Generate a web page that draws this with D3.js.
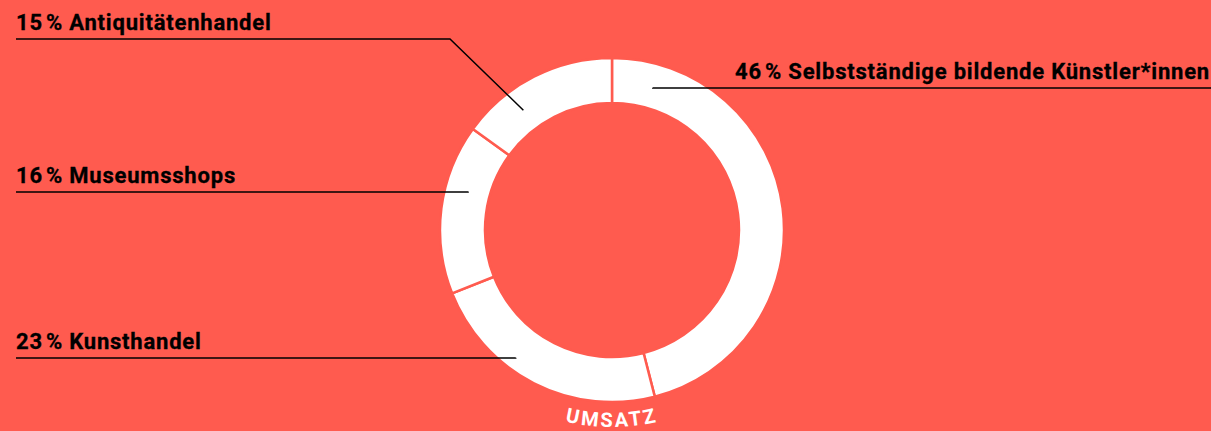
<!DOCTYPE html>
<html>
<head>
<meta charset="utf-8">
<script src="https://cdn.jsdelivr.net/npm/d3@7"></script>
<style>
  html, body { margin: 0; padding: 0; background: #ff5b4f; }
  svg { display: block; }
  .label { font-family: Roboto, "Liberation Sans", sans-serif; font-weight: 700; font-size: 22px; fill: #000; letter-spacing: 0.8px; stroke: #000; stroke-width: 0.3px; }
  .title { font-family: Roboto, "Liberation Sans", sans-serif; font-weight: 700; font-size: 20px; fill: #fff; letter-spacing: 2.5px; }
</style>
</head>
<body>
<div class="chart"></div>
<script>
// DATA ------------------------------
const categories = ['Selbstständige bildende Künstler*innen', 'Kunsthandel', 'Museumsshops', 'Antiquitätenhandel'];
const shares = [46, 23, 16, 15];
const chartTitle = 'UMSATZ';

// CHART INIT ------------------------------
const width = 1211;
const height = 431;
const cx = 612;
const cy = 230;
const outerR = 172;
const innerR = 127;
const bg = '#ff5b4f';

const svg = d3
  .select('.chart')
  .append('svg')
  .attr('width', width)
  .attr('height', height);

svg.append('rect').attr('width', width).attr('height', height).attr('fill', bg);

const group = svg.append('g').attr('transform', 'translate(' + cx + ',' + cy + ')');

const data = categories.map((c, i) => ({ name: c, value: shares[i] }));

const pie = d3.pie().sort(null).value((d) => d.value);
const arc = d3.arc().innerRadius(innerR).outerRadius(outerR);
const arcs = pie(data);

group
  .selectAll('path.slice')
  .data(arcs)
  .enter()
  .append('path')
  .attr('class', 'slice')
  .attr('d', arc)
  .attr('fill', '#fff')
  .attr('stroke', bg)
  .attr('stroke-width', 2.5);

// leader lines: anchor in ring (angle in degrees, radius), elbow and label row
const labelLayout = [
  { angle: 16, r: 148, y: 88, side: 'right', x2: width, tx: width - 1 },
  { angle: 217, r: 160, y: 358, side: 'left', x2: 16, tx: 16 },
  { angle: 285, r: 149, y: 192, side: 'left', x2: 16, tx: 16 },
  { angle: 323.5, r: 149, y: 39, side: 'left', x2: 16, tx: 16, elbowX: 450 }
];

const fmt = (v) => v + '\u200A%';

arcs.forEach((a, i) => {
  const l = labelLayout[i];
  const rad = (l.angle * Math.PI) / 180;
  const px = cx + Math.sin(rad) * l.r;
  const py = cy - Math.cos(rad) * l.r;
  const pts = [[px, py]];
  if (l.elbowX !== undefined) pts.push([l.elbowX, l.y]);
  else pts.push([px, l.y]);
  pts.push([l.x2, l.y]);

  svg
    .append('path')
    .attr('d', d3.line()(pts))
    .attr('fill', 'none')
    .attr('stroke', '#000')
    .attr('stroke-width', 1.5);

  svg
    .append('text')
    .attr('class', 'label')
    .attr('x', l.tx)
    .attr('y', l.y - 9)
    .style('text-anchor', l.side === 'right' ? 'end' : 'start')
    .text(fmt(a.data.value) + ' ' + a.data.name);
});

// curved title along the bottom
const tr = 197;
svg
  .append('path')
  .attr('id', 'titlePath')
  .attr('d', 'M' + (cx - tr) + ',' + cy + ' A' + tr + ',' + tr + ' 0 0 0 ' + (cx + tr) + ',' + cy)
  .attr('fill', 'none');

svg
  .append('text')
  .attr('class', 'title')
  .append('textPath')
  .attr('href', '#titlePath')
  .attr('startOffset', '50%')
  .style('text-anchor', 'middle')
  .text(chartTitle);
</script>
</body>
</html>
